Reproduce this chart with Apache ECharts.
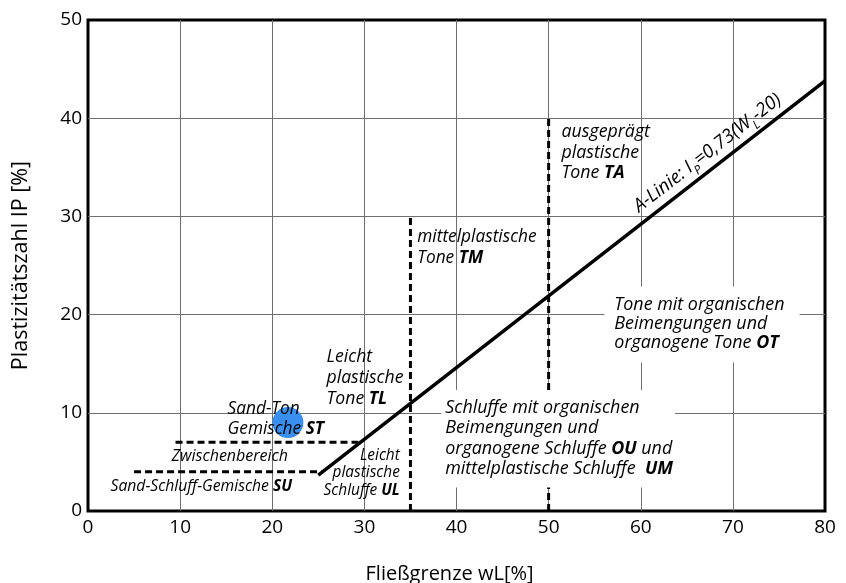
<!DOCTYPE html>
<html><head><meta charset="utf-8">
<script src="https://cdn.jsdelivr.net/npm/echarts@6/dist/echarts.min.js"></script>
<style>html,body{margin:0;padding:0;background:#fff}#c{width:846px;height:583px}</style>
</head><body><div id="c"></div>
<script>
// ---- data ----
var xRange = [0, 80];
var yRange = [0, 50];
var tickStep = 10;
var xTitle = 'Fließgrenze wL[%]';
var yTitle = 'Plastizitätszahl IP [%]';
var aLine = [[25, 3.65], [80, 43.8]];
var stUpper = [[9.5, 7], [29.6, 7]];
var suUpper = [[5, 4], [25.5, 4]];
var tlTmBoundary = [[35, 0], [35, 30]];
var tmTaBoundary = [[50, 0], [50, 40]];
var samplePoint = [[21.7, 9]];
var regionTexts = [
  'Sand-Ton\nGemische {b|ST}',
  'Zwischenbereich',
  'Sand-Schluff-Gemische {b|SU}',
  'Leicht\nplastische\nSchluffe {b|UL}',
  'Leicht\nplastische\nTone {b|TL}',
  'mittelplastische\nTone {b|TM}',
  'ausgeprägt\nplastische\nTone {b|TA}',
  'Tone mit organischen\nBeimengungen und\norganogene Tone {b|OT}',
  'Schluffe mit organischen\nBeimengungen und\norganogene Schluffe {b|OU} und\nmittelplastische Schluffe  {b|UM}',
  'A-Linie: I{sub|P}=0,73(W{sub|L}-20)'
];
// ---- layout (anchors in data units) ----
var FONT = 'Open Sans';
var layout = [
  {at: [15.2, 9.35], fs: 17.3, lh: 20, align: 'left'},
  {at: [9.12, 5.5], fs: 16, lh: 18, align: 'left'},
  {at: [2.5, 2.44], fs: 15.7, lh: 18, align: 'left'},
  {at: [33.9, 3.82], fs: 15.4, lh: 17.5, align: 'right'},
  {at: [25.95, 13.54], fs: 17.6, lh: 21, align: 'left'},
  {at: [35.8, 26.73], fs: 17.3, lh: 21, align: 'left'},
  {at: [51.45, 36.46], fs: 17.8, lh: 20.5, align: 'left'},
  {at: [56.1, 18.94], fs: 17.9, lh: 19, align: 'left', bg: true, pad: [9, 15, 10, 10]},
  {at: [38.4, 7.3], fs: 17.9, lh: 20.6, align: 'left', bg: true, pad: [7, 2, 8, 4]},
  {at: [67.3, 36.4], fs: 18.7, lh: 22, align: 'center', rotate: 37.8}
];

var labelData = regionTexts.map(function (t, i) {
  var L = layout[i];
  return {
    value: L.at,
    label: {
      show: true,
      formatter: t,
      position: [0, 0],
      align: L.align,
      verticalAlign: 'middle',
      rotate: L.rotate || 0,
      fontFamily: FONT,
      fontStyle: 'italic',
      fontWeight: 500,
      fontSize: L.fs,
      lineHeight: L.lh,
      color: '#000',
      opacity: 1,
      backgroundColor: L.bg ? '#fff' : 'transparent',
      padding: L.pad || 0,
      rich: {
        b: {fontFamily: FONT, fontStyle: 'italic', fontWeight: 'bold', fontSize: L.fs, lineHeight: L.lh, color: '#000'},
        sub: {fontFamily: FONT, fontStyle: 'italic', fontWeight: 500, fontSize: 12, lineHeight: 28, verticalAlign: 'bottom', color: '#000'}
      }
    }
  };
});

function dashed(d) {
  return {type: 'line', data: d, symbol: 'none', silent: true, z: 3,
    lineStyle: {color: '#000', width: 3, type: [7, 4]}};
}

var chart = echarts.init(document.getElementById('c'), null, {renderer: 'canvas'});
chart.setOption({
  animation: false,
  grid: {left: 88, right: 21, top: 20, bottom: 72, show: true, borderColor: '#000', borderWidth: 3,
    backgroundColor: 'transparent', containLabel: false, outerBoundsMode: 'none'},
  xAxis: {
    type: 'value', min: xRange[0], max: xRange[1], interval: tickStep,
    name: xTitle, nameLocation: 'middle', nameGap: 53,
    nameTextStyle: {fontFamily: FONT, fontSize: 20, color: '#000', padding: [0, 14, 0, 0]},
    axisLine: {show: false}, axisTick: {show: false},
    axisLabel: {fontFamily: FONT, fontSize: 19, color: '#000', margin: 7},
    splitLine: {show: true, showMinLine: false, showMaxLine: false, lineStyle: {color: '#6f6f6f', width: 1}}
  },
  yAxis: {
    type: 'value', min: yRange[0], max: yRange[1], interval: tickStep,
    name: yTitle, nameLocation: 'middle', nameGap: 56,
    nameTextStyle: {fontFamily: FONT, fontSize: 21.5, color: '#000'},
    axisLine: {show: false}, axisTick: {show: false},
    axisLabel: {fontFamily: FONT, fontSize: 19, color: '#000', margin: 6},
    splitLine: {show: true, showMinLine: false, showMaxLine: false, lineStyle: {color: '#6f6f6f', width: 1}}
  },
  series: [
    {type: 'line', data: aLine, symbol: 'none', silent: true, z: 3, lineStyle: {color: '#000', width: 3.5}},
    dashed(stUpper),
    dashed(suUpper),
    dashed(tlTmBoundary),
    dashed(tmTaBoundary),
    {type: 'scatter', data: samplePoint, symbolSize: 31, z: 4, itemStyle: {color: '#3a8ef0', opacity: 1}},
    {type: 'scatter', data: labelData, symbolSize: 1, z: 10, silent: true, itemStyle: {color: 'rgba(0,0,0,0)'}}
  ]
});
</script></body></html>
